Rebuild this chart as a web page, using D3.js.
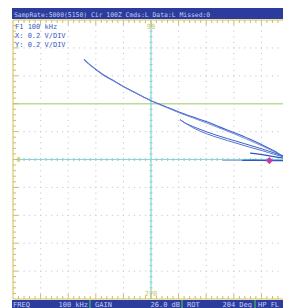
<!DOCTYPE html>
<html><head><meta charset="utf-8">
<script src="https://cdn.jsdelivr.net/npm/d3@7"></script>
<style>html,body{margin:0;padding:0;background:#fff;overflow:hidden}svg{display:block}</style>
</head><body>
<script>
// ---- data (X / Y in divisions, 0.2 V/DIV) ----
const headerText = "SampRate:5000(5150) Cir 100Z Cmds:L Data:L Missed:0";
const infoLines = ["F1 100 kHz", "X: 0.2 V/DIV", "Y: 0.2 V/DIV"];
const footerLabels = ["FREQ", "GAIN", "ROT", "HP FL"];
const footerValues = ["100 kHz", "26.0 dB", "204 Deg", ""];
const topLabel = "90", bottomLabel = "270", zeroLabel = "0";
const traceMainX = [-2.43, -2.2, -1.95, -1.73, -1.35, -1.0, -0.5, 0.0, 0.5, 0.99, 1.5, 2.02, 2.5, 3.04, 3.55, 4.05, 4.45, 4.8, 5.1];
const traceMainY = [3.59, 3.38, 3.19, 3.04, 2.82, 2.62, 2.36, 2.11, 1.91, 1.71, 1.53, 1.35, 1.16, 0.95, 0.74, 0.51, 0.31, 0.12, -0.02];
const traceMain2X = [-2.4, -2.15, -1.9, -1.7, -1.3, -0.95, -0.45, 0.05, 0.55, 1.03, 1.55, 2.06, 2.55, 3.08, 3.58, 4.08, 4.48, 4.82, 5.1];
const traceMain2Y = [3.55, 3.35, 3.16, 3.0, 2.79, 2.59, 2.33, 2.08, 1.87, 1.67, 1.48, 1.29, 1.1, 0.89, 0.68, 0.46, 0.27, 0.1, -0.02];
const loopOuterX = [1.05, 1.25, 1.6, 2.02, 2.5, 3.04, 3.55, 4.05, 4.45, 4.8, 5.1];
const loopOuterY = [1.43, 1.3, 1.15, 0.99, 0.83, 0.67, 0.52, 0.37, 0.24, 0.12, 0.02];
const loopInnerX = [1.05, 1.2, 1.6, 2.02, 2.5, 3.04, 3.55, 4.05, 4.45, 4.8, 5.1];
const loopInnerY = [1.43, 1.33, 1.1, 0.92, 0.76, 0.6, 0.45, 0.31, 0.19, 0.09, 0.01];
const branchX = [3.59, 3.9, 4.3, 4.6, 4.8, 5.1];
const branchY = [0.23, 0.19, 0.13, 0.08, 0.05, 0.01];
const flatFaintX = [2.6, 3.3];
const flatFaintY = [-0.03, -0.03];
const flatX = [3.3, 4.0, 4.8, 5.1];
const flatY = [-0.03, -0.03, -0.04, -0.04];
const markerX = [4.29], markerY = [-0.04];

const W = 283, H = 308;
const svg = d3.select("body").append("svg").attr("width", W).attr("height", H);
const x = d3.scaleLinear().domain([-5, 5]).range([13, 289]);
const y = d3.scaleLinear().domain([-5, 5]).range([299, 20]);
const mono = "'DejaVu Sans Mono', monospace";
const minorSteps = d3.range(-25, 26).map(i => i / 5);

// grid dots
const gridDivs = [-4, -3, -2, -1, 1, 2, 3, 4];
const gDots = svg.append("g").attr("fill", "#c6c6e0");
gridDivs.forEach(d => {
  minorSteps.forEach(s => {
    if (s > -5 && s < 5) gDots.append("rect").attr("x", x(d) - 0.5).attr("y", y(s) - 0.5).attr("width", 1.1).attr("height", 1.1);
  });
  if (d !== 2) minorSteps.forEach(s => {
    if (s > -5 && s < 5) gDots.append("rect").attr("x", x(s) - 0.5).attr("y", y(d) - 0.5).attr("width", 1.1).attr("height", 1.1);
  });
});

// green reference line
svg.append("line").attr("x1", x(-5)).attr("x2", W).attr("y1", y(2)).attr("y2", y(2))
  .attr("stroke", "#bcdb96").attr("stroke-width", 1.6);

// cyan center axes with ticks
const cy = svg.append("g").attr("stroke", "#8dd4d4");
cy.append("line").attr("x1", x(-5) + 2).attr("x2", W).attr("y1", y(0)).attr("y2", y(0)).attr("stroke-width", 1.2);
cy.append("line").attr("x1", x(0)).attr("x2", x(0)).attr("y1", y(5)).attr("y2", y(-5)).attr("stroke-width", 1.2);
minorSteps.forEach(s => {
  if (s > -5 && s < 5) {
    cy.append("line").attr("x1", x(s)).attr("x2", x(s)).attr("y1", y(0) - 1.5).attr("y2", y(0) + 1.5).attr("stroke-width", 1.2);
    cy.append("line").attr("x1", x(0) - 1.5).attr("x2", x(0) + 1.5).attr("y1", y(s)).attr("y2", y(s)).attr("stroke-width", 1.2);
  }
});

// rulers
const ru = svg.append("g").attr("stroke", "#cdbf5a").attr("stroke-width", 1);
ru.append("line").attr("x1", x(-5)).attr("x2", W).attr("y1", y(5)).attr("y2", y(5));
ru.append("line").attr("x1", x(-5)).attr("x2", W).attr("y1", y(-5)).attr("y2", y(-5));
ru.append("line").attr("x1", x(-5)).attr("x2", x(-5)).attr("y1", y(5)).attr("y2", y(-5));
minorSteps.forEach(s => {
  const major = Math.abs(s - Math.round(s)) < 1e-6;
  const L = major ? 5 : 3;
  if (s > -5 && s <= 5.2) {
    ru.append("line").attr("x1", x(s)).attr("x2", x(s)).attr("y1", y(5)).attr("y2", y(5) + L);
    ru.append("line").attr("x1", x(s)).attr("x2", x(s)).attr("y1", y(-5)).attr("y2", y(-5) - L);
  }
  if (s > -5 && s < 5) ru.append("line").attr("x1", x(-5)).attr("x2", x(-5) + L).attr("y1", y(s)).attr("y2", y(s));
});

// yellow labels
const lab = svg.append("g").attr("fill", "#d2c25e").attr("font-family", mono).attr("font-size", 7);
lab.append("text").attr("x", x(0)).attr("y", y(5) + 9).attr("text-anchor", "middle").text(topLabel);
lab.append("text").attr("x", x(0)).attr("y", y(-5) - 3).attr("text-anchor", "middle").text(bottomLabel);
lab.append("text").attr("x", x(-5) + 3.5).attr("y", y(0) + 2.5).text(zeroLabel);

// info text
svg.append("g").attr("fill", "#3a5ac4").attr("font-family", mono).attr("font-size", 7)
  .selectAll("text").data(infoLines).join("text")
  .attr("x", 15).attr("y", (d, i) => 29 + i * 9).text(d => d);

// traces
const line = d3.line().x(d => x(d[0])).y(d => y(d[1])).curve(d3.curveCatmullRom);
const zip = (a, b) => a.map((v, i) => [v, b[i]]);
const traces = [
  [zip(traceMainX, traceMainY), "#3b5fc8", 1.1],
  [zip(traceMain2X, traceMain2Y), "#6a86d8", 0.9],
  [zip(loopOuterX, loopOuterY), "#3b5fc8", 1.0],
  [zip(loopInnerX, loopInnerY), "#5575d0", 1.0],
  [zip(branchX, branchY), "#2f55c8", 1.3],
  [zip(flatFaintX, flatFaintY), "#9aaae0", 1.2],
  [zip(flatX, flatY), "#2f55c8", 1.4]
];
const tg = svg.append("g").attr("fill", "none");
traces.forEach(t => tg.append("path").attr("d", line(t[0])).attr("stroke", t[1]).attr("stroke-width", t[2]));
svg.append("g").selectAll("rect").data(zip(markerX, markerY)).join("rect")
  .attr("x", d => x(d[0]) - 2.5).attr("y", d => y(d[1]) - 2.5).attr("width", 5).attr("height", 5)
  .attr("fill", "#c43fa6").attr("transform", d => `rotate(45 ${x(d[0])} ${y(d[1])})`);

// header bar
svg.append("rect").attr("x", 12).attr("y", 8).attr("width", W - 12).attr("height", 11).attr("fill", "#2b3c9c");
svg.append("text").attr("x", 14).attr("y", 16.5).attr("fill", "#c3cdf6").attr("font-family", mono)
  .attr("font-size", 6.4).text(headerText);

// footer bar
svg.append("rect").attr("x", 12).attr("y", 300).attr("width", W - 12).attr("height", 8).attr("fill", "#2b3c9c");
const segX = [13, 95, 187, 258], segEnd = [88, 180, 252, 330], sepX = [90, 182, 255];
const ft = svg.append("g").attr("fill", "#c3cdf6").attr("font-family", mono).attr("font-size", 7);
footerLabels.forEach((l, i) => {
  ft.append("text").attr("x", segX[i]).attr("y", 307).text(l);
  if (footerValues[i]) ft.append("text").attr("x", segEnd[i]).attr("y", 307).attr("text-anchor", "end").text(footerValues[i]);
});
svg.append("g").attr("stroke", "#3fbf5e").attr("stroke-width", 1.2).selectAll("line").data(sepX).join("line")
  .attr("x1", d => d).attr("x2", d => d).attr("y1", 300).attr("y2", 308);
</script>
</body></html>
